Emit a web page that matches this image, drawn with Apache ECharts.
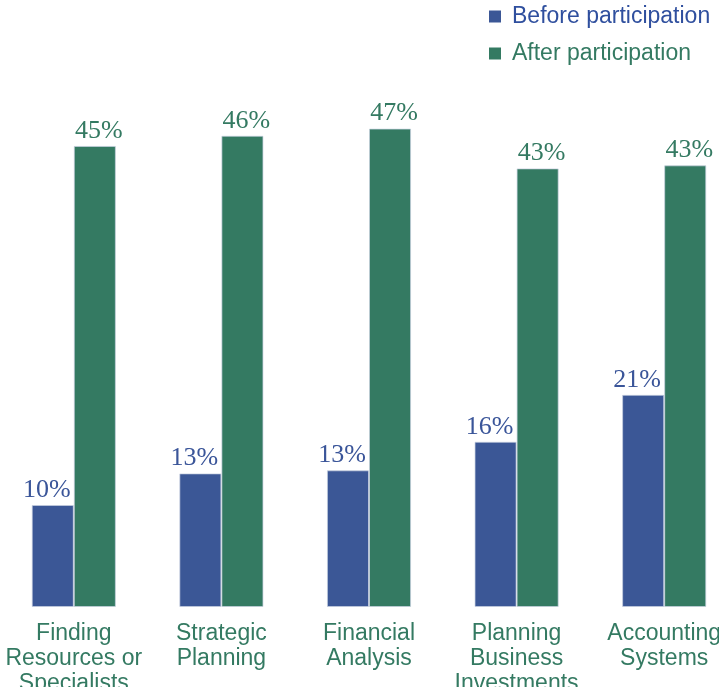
<!DOCTYPE html>
<html>
<head>
<meta charset="utf-8">
<script src="https://cdn.jsdelivr.net/npm/echarts@6/dist/echarts.min.js"></script>
<style>
  html, body { margin: 0; padding: 0; background: #fff; }
  #chart { width: 719px; height: 687px; }
</style>
</head>
<body>
<div id="chart"></div>
<script>
  const categories = [
    'Finding\nResources or\nSpecialists',
    'Strategic\nPlanning',
    'Financial\nAnalysis',
    'Planning\nBusiness\nInvestments',
    'Accounting\nSystems',
  ];
  // labels show the rounded percentages
  const before = [10.0, 13.1, 13.4, 16.2, 20.8];
  const after = [45.2, 46.2, 46.9, 43.0, 43.3];

  const blue = '#3b5796';
  const green = '#347a62';

  const chart = echarts.init(document.getElementById('chart'));
  chart.setOption({
    animation: false,
    legend: {
      orient: 'vertical',
      left: 484,
      top: 0,
      itemWidth: 12,
      itemHeight: 12,
      itemGap: 14,
      icon: 'rect',
      itemStyle: { borderWidth: 0 },
      textStyle: { fontFamily: 'Liberation Sans', fontSize: 23, padding: [0, 0, 0, 6] },
      data: [
        { name: 'Before participation', textStyle: { color: '#2f4f9e' } },
        { name: 'After participation', textStyle: { color: green } },
      ],
    },
    grid: { left: 0, right: -19, top: 97, bottom: 80, outerBoundsMode: 'none', containLabel: false },
    xAxis: {
      type: 'category',
      data: categories,
      axisLine: { show: false },
      axisTick: { show: false },
      axisLabel: {
        interval: 0,
        margin: 14,
        color: green,
        fontFamily: 'Liberation Sans',
        fontSize: 23,
        lineHeight: 25,
        verticalAlign: 'top',
      },
    },
    yAxis: {
      type: 'value',
      min: 0,
      max: 50,
      show: false,
      splitLine: { show: false },
    },
    series: [
      {
        name: 'Before participation',
        type: 'bar',
        data: before,
        barGap: '0%',
        barCategoryGap: '43%',
        itemStyle: { color: blue, borderColor: 'rgba(200,208,224,0.7)', borderWidth: 1 },
        label: {
          show: true,
          position: 'top',
          distance: 2,
          offset: [-6, 0],
          color: '#3a5599',
          fontFamily: 'Liberation Serif',
          fontSize: 26,
          formatter: (p) => Math.round(p.value) + '%',
        },
      },
      {
        name: 'After participation',
        type: 'bar',
        data: after,
        itemStyle: { color: green, borderColor: 'rgba(200,208,224,0.7)', borderWidth: 1 },
        label: {
          show: true,
          position: 'top',
          distance: 2,
          offset: [4, 0],
          color: green,
          fontFamily: 'Liberation Serif',
          fontSize: 26,
          formatter: (p) => Math.round(p.value) + '%',
        },
      },
    ],
  });
</script>
</body>
</html>
